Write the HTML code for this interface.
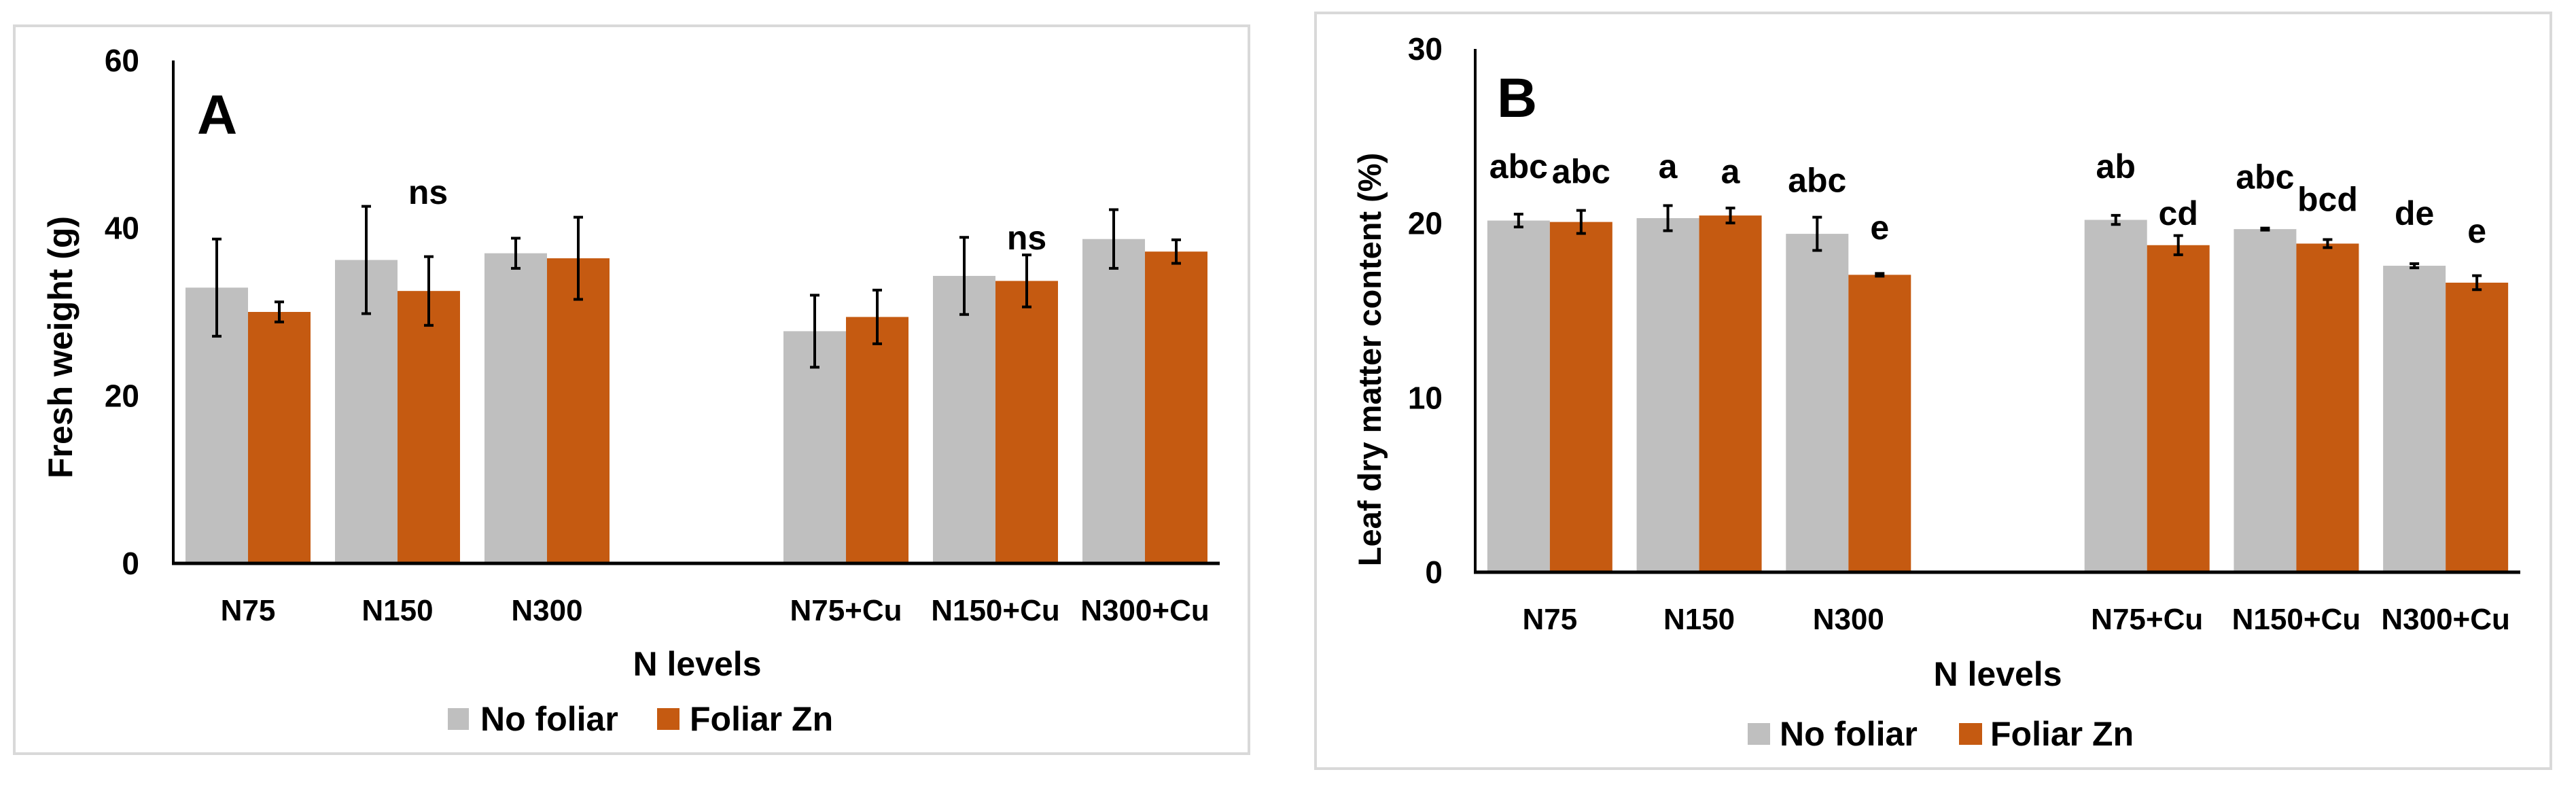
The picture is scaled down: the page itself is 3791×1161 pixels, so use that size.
<!DOCTYPE html>
<html><head><meta charset="utf-8"><style>
html,body{margin:0;padding:0;background:#fff;}
svg{display:block;}
text{font-family:"Liberation Sans Narrow","Liberation Sans",sans-serif;font-weight:bold;fill:#000;}
</style></head><body>
<svg id="s" width="3791" height="1161" viewBox="0 0 3791 1161" xmlns="http://www.w3.org/2000/svg">
<rect x="21" y="38" width="1817" height="1071" fill="#fff" stroke="#d9d9d9" stroke-width="4"/>
<rect x="1936" y="19" width="1818" height="1112" fill="#fff" stroke="#d9d9d9" stroke-width="4"/>
</svg>
<script>
const categories = ["N75","N150","N300","","N75+Cu","N150+Cu","N300+Cu"];
const aNoFoliar = [32.9,36.2,37.0,null,27.7,34.3,38.7];
const aFoliarZn = [30.0,32.5,36.4,null,29.4,33.7,37.2];
const aNoFoliarErr = [5.8,6.4,1.8,null,4.3,4.6,3.5];
const aFoliarZnErr = [1.2,4.1,4.9,null,3.2,3.1,1.4];
const aTicks = [0,20,40,60];
const bNoFoliar = [20.16,20.3,19.4,null,20.2,19.67,17.57];
const bFoliarZn = [20.08,20.45,17.05,null,18.75,18.84,16.6];
const bNoFoliarErr = [0.37,0.72,0.95,null,0.26,0.06,0.12];
const bFoliarZnErr = [0.66,0.43,0.08,null,0.55,0.23,0.4];
const bNoFoliarLetters = ["abc","a","abc",null,"ab","abc","de"];
const bFoliarZnLetters = ["abc","a","e",null,"cd","bcd","e"];
const bNoFoliarLetterPos = [22.6,22.6,21.8,null,22.6,22.0,19.9];
const bFoliarZnLetterPos = [22.3,22.3,19.1,null,19.9,20.7,18.9];
const bTicks = [0,10,20,30];

const svg = document.getElementById('s');
const NS = "http://www.w3.org/2000/svg";
function mk(tag, attrs, txt){const e=document.createElementNS(NS,tag);for(const k in attrs)e.setAttribute(k,attrs[k]);if(txt!=null)e.textContent=txt;svg.appendChild(e);return e;}

function panel(p){
  const y=v=>p.y0-(v-p.vmin)/(p.vmax-p.vmin)*(p.y0-p.y1);
  const slot=(p.x1-p.x0)/categories.length;
  const cx=i=>p.x0+slot*(i+0.5);
  const bw=92;
  let e=mk('line',{x1:p.x0,y1:p.y1,x2:p.x0,y2:p.y0+2,stroke:'#000','stroke-width':4});
  
  
  p.ticks.forEach(t=>{
    const tx=mk('text',{x:p.tickX,y:y(t)+16,'text-anchor':'end','font-size':46},String(t));
    
    
  });
  const series=[[p.s1,p.e1,'#bfbfbf',-1,'no-foliar'],[p.s2,p.e2,'#c55a11',1,'foliar-zn']];
  categories.forEach((c,i)=>{
    series.forEach(([s,er,col,side,nm])=>{
      if(s[i]==null)return;
      const bx=side<0?cx(i)-bw:cx(i);
      const r=mk('rect',{x:bx,y:y(s[i]),width:bw,height:y(p.vmin)-y(s[i]),fill:col});
      
      
      const m=bx+bw/2, t=y(s[i]+er[i]), b=y(s[i]-er[i]);
      const g=mk('path',{d:`M${m},${t}V${b}M${m-7},${t}H${m+7}M${m-7},${b}H${m+7}`,stroke:'#000','stroke-width':4,fill:'none'});
      
      
    });
    if(c){
      const l=mk('text',{x:cx(i),y:p.catY,'text-anchor':'middle','font-size':44},c);
      
      
    }
  });
  e=mk('line',{x1:p.x0-2,y1:p.y0,x2:p.x1,y2:p.y0,stroke:'#000','stroke-width':5});
  
  
  return {y,cx,bw};
}

const A=panel({id:'panel-a',x0:255,x1:1795,y0:829,y1:89,vmin:0,vmax:60,ticks:aTicks,tickX:205,catY:913,s1:aNoFoliar,s2:aFoliarZn,e1:aNoFoliarErr,e2:aFoliarZnErr});
const B=panel({id:'panel-b',x0:2171,x1:3709,y0:842,y1:72,vmin:0,vmax:30,ticks:bTicks,tickX:2123,catY:926,s1:bNoFoliar,s2:bFoliarZn,e1:bNoFoliarErr,e2:bFoliarZnErr});

categories.forEach((c,i)=>{
  if(bNoFoliarLetters[i]){
    const t=mk('text',{x:B.cx(i)-B.bw/2,y:B.y(bNoFoliarLetterPos[i]),'text-anchor':'middle','font-size':50},bNoFoliarLetters[i]);
    
    
  }
  if(bFoliarZnLetters[i]){
    const t=mk('text',{x:B.cx(i)+B.bw/2,y:B.y(bFoliarZnLetterPos[i]),'text-anchor':'middle','font-size':50},bFoliarZnLetters[i]);
    
    
  }
});
</script>
<div style="position:absolute;left:0;top:0;width:3791px;height:1161px;pointer-events:none">
<svg width="3791" height="1161" viewBox="0 0 3791 1161" style="position:absolute;left:0;top:0">
<text x="630" y="300" text-anchor="middle" font-size="50">ns</text>
<text x="1511" y="367" text-anchor="middle" font-size="50">ns</text>
<text x="290" y="197" font-size="82">A</text>
<text x="2203" y="172" font-size="82">B</text>
<text transform="translate(106,511) rotate(-90)" text-anchor="middle" font-size="50" style="font-family:'Liberation Sans',sans-serif">Fresh weight (g)</text>
<text transform="translate(2032,529) rotate(-90)" text-anchor="middle" font-size="47" style="font-family:'Liberation Sans',sans-serif">Leaf dry matter content (%)</text>
<text x="1026" y="994" text-anchor="middle" font-size="50">N levels</text>
<text x="2940" y="1009" text-anchor="middle" font-size="50">N levels</text>
<g>
<rect x="659" y="1042" width="31" height="32" fill="#bfbfbf"/>
<text x="707" y="1075" font-size="50">No foliar</text>
<rect x="967" y="1042" width="33" height="32" fill="#c55a11"/>
<text x="1015" y="1075" font-size="50">Foliar Zn</text>
</g>
<g>
<rect x="2572" y="1064" width="33" height="32" fill="#bfbfbf"/>
<text x="2619" y="1097" font-size="50">No foliar</text>
<rect x="2883" y="1064" width="34" height="32" fill="#c55a11"/>
<text x="2929" y="1097" font-size="50">Foliar Zn</text>
</g>
</svg>
</div>
</body></html>
